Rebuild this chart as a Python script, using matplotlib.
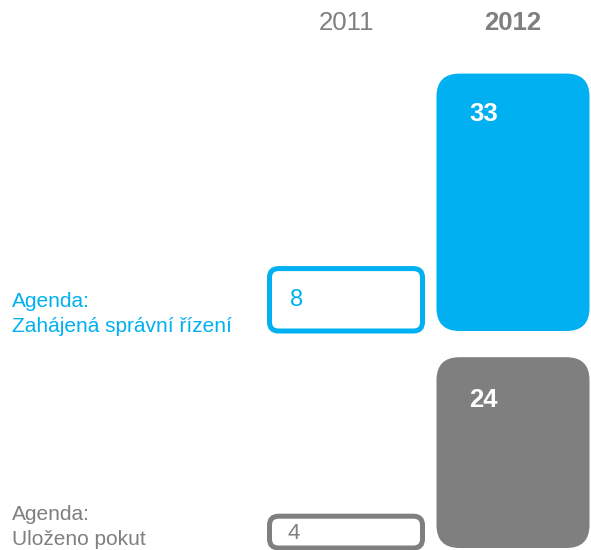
import matplotlib
matplotlib.use("Agg")
import matplotlib.pyplot as plt
from matplotlib.patches import FancyBboxPatch
from matplotlib import transforms

plt.rcParams['font.family'] = ['Liberation Sans', 'DejaVu Sans']

years = ["2011", "2012"]
row_labels = [["Agenda:", "Zahájená správní řízení"], ["Agenda:", "Uloženo pokut"]]
values_2011 = [8, 4]
values_2012 = [33, 24]
row_colors = ["#00B0F0", "#7F7F7F"]
year_color = "#7F7F7F"

W, H = 591, 550
fig = plt.figure(figsize=(W / 100, H / 100), dpi=100)

# row axes: (baseline px from top, px per unit, axes height px)
row_specs = [(331, 7.8, 331), (548, 7.95, 210)]
col_px = [346, 513]
px_per_col = col_px[1] - col_px[0]
bar_w = 153 / px_per_col

axes = []
for (base, ppu, hpx) in row_specs:
    ax = fig.add_axes([0, (H - base) / H, 1, hpx / H])
    ax.set_xlim(-col_px[0] / px_per_col, (W - col_px[0]) / px_per_col)
    ax.set_ylim(0, hpx / ppu)
    ax.axis("off")
    axes.append((ax, ppu))

for r, (ax, ppu) in enumerate(axes):
    color = row_colors[r]
    aspect = (1 / ppu) / (1 / px_per_col)
    vals = [values_2011[r], values_2012[r]]
    for c, v in enumerate(vals):
        x0 = c - bar_w / 2
        if c == 0:
            patch = FancyBboxPatch((x0, 0), bar_w, v,
                                   boxstyle=f"round,pad=0,rounding_size={9 / px_per_col}",
                                   mutation_aspect=aspect, facecolor="white",
                                   edgecolor=color, linewidth=3.6, clip_on=False)
            ax.add_patch(patch)
            fs = 17 if r == 0 else 16
            off = (20, -31) if r == 0 else (18, -17)
            ax.annotate(str(v), (x0, v), xytext=(off[0] * 0.72, off[1] * 0.72),
                        textcoords="offset points", color=color, fontsize=fs,
                        ha="left", va="center", annotation_clip=False)
        else:
            patch = FancyBboxPatch((x0, 0), bar_w, v,
                                   boxstyle=f"round,pad=0,rounding_size={23 / px_per_col}",
                                   mutation_aspect=aspect, facecolor=color,
                                   edgecolor="none", linewidth=0, clip_on=False)
            ax.add_patch(patch)
            off = (33, -40) if r == 0 else (33, -43)
            ax.annotate(str(v), (x0, v), xytext=(off[0] * 0.72, off[1] * 0.72),
                        textcoords="offset points", color="white", fontsize=18.5,
                        fontweight="bold", ha="left", va="center",
                        annotation_clip=False)

# year headers
ax0 = axes[0][0]
tr = transforms.blended_transform_factory(ax0.transData, fig.transFigure)
for c, y in enumerate(years):
    ax0.text(c, 1 - 23 / H, y, transform=tr, ha="center", va="center",
             fontsize=18.5, color=year_color,
             fontweight="bold" if c == 1 else "normal", clip_on=False)

# row labels
label_baselines = [[307, 332], [520, 545]]
for r, lines in enumerate(row_labels):
    for line, b in zip(lines, label_baselines[r]):
        fig.text(12 / W, 1 - b / H, line, ha="left", va="baseline",
                 fontsize=15, color=row_colors[r])

fig.savefig("out.png", dpi=100)
